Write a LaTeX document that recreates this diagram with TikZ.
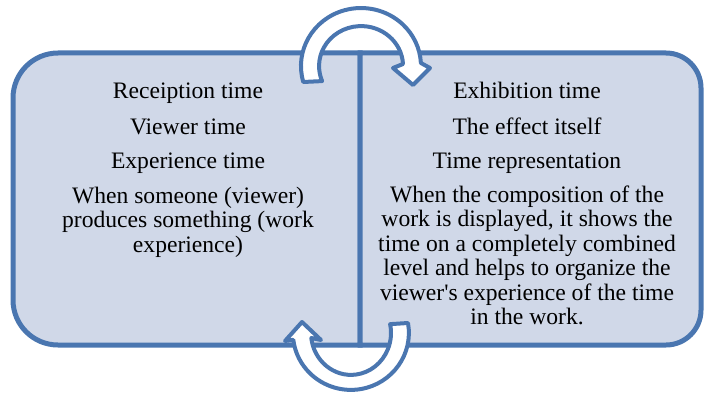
\documentclass[tikz,border=0pt]{standalone}
\usepackage{fontspec}
\setmainfont{Liberation Serif}[Ligatures=TeXOff]
\definecolor{frameblue}{RGB}{74,118,176}
\definecolor{panelfill}{RGB}{208,216,232}
\begin{document}
\begin{tikzpicture}[x=1pt,y=-1pt,
  panel/.style={draw=frameblue,fill=panelfill,line width=5pt},
  turnarrow/.style={draw=frameblue,fill=white,line width=4pt,line join=round},
  txt/.style={anchor=base,inner sep=0pt,font=\fontsize{23.6}{24.5}\selectfont}]
\useasboundingbox (0,0) rectangle (706,393);

% left panel: rounded on the outer corners only
\draw[panel] (360,53) -- (58,53) arc[start angle=270,end angle=180,radius=45]
  -- (13,300) arc[start angle=180,end angle=90,radius=45] -- (360,345) -- cycle;
% right panel
\draw[panel] (360,53) -- (666,53) arc[start angle=270,end angle=360,radius=35]
  -- (701,310) arc[start angle=0,end angle=90,radius=35] -- (360,345) -- cycle;

% upper turning arrow, left panel to right panel
\draw[turnarrow] (303.3,82) arc[start angle=164,end angle=357,x radius=60,y radius=58]
  -- (430,68) -- (413,85) -- (393,68)
  -- (403,64) arc[start angle=357,end angle=158,x radius=42,y radius=40] -- cycle;

% lower turning arrow, right panel back to left panel
\draw[turnarrow] (408,323) arc[start angle=-10,end angle=173,x radius=58,y radius=57]
  -- (285,341) -- (302,322) -- (321,340)
  -- (311.3,338) arc[start angle=173,end angle=-12,x radius=40,y radius=42] -- cycle;

% left panel text
\node[txt] (l1) at (188,99)  {Receiption time};
\node[txt] (l2) at (188,134) {Viewer time};
\node[txt] (l3) at (188,168) {Experience time};
\node[txt] (l4) at (188,203) {When someone (viewer)};
\node[txt] (l5) at (188,227.5) {produces something (work};
\node[txt] (l6) at (188,252) {experience)};

% right panel text
\node[txt] (r1) at (527,99)  {Exhibition time};
\node[txt] (r2) at (527,134) {The effect itself};
\node[txt] (r3) at (527,168) {Time representation};
\node[txt] (r4) at (527,202) {When the composition of the};
\node[txt] (r5) at (527,226.5) {work is displayed, it shows the};
\node[txt] (r6) at (527,251) {time on a completely combined};
\node[txt] (r7) at (527,275.5) {level and helps to organize the};
\node[txt] (r8) at (527,300) {viewer's experience of the time};
\node[txt] (r9) at (527,324.5) {in the work.};
\end{tikzpicture}
\end{document}
